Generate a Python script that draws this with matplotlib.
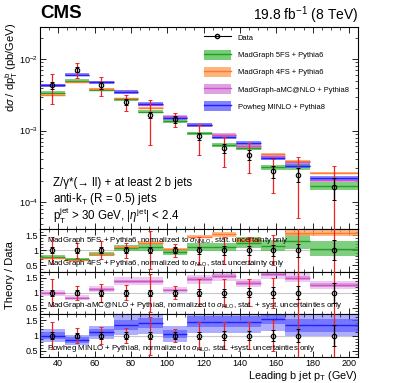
import numpy as np
import matplotlib
matplotlib.use("Agg")
import matplotlib.pyplot as plt
from matplotlib.lines import Line2D
from matplotlib.patches import Patch
from matplotlib.ticker import AutoMinorLocator, LogLocator, NullFormatter, FormatStrFormatter

plt.rcParams['font.family'] = ['Liberation Sans', 'DejaVu Sans']
plt.rcParams['mathtext.fontset'] = 'custom'
plt.rcParams['mathtext.rm'] = 'Liberation Sans'
plt.rcParams['mathtext.it'] = 'Liberation Sans:italic'
plt.rcParams['mathtext.bf'] = 'Liberation Sans:bold'

# ---------------------------------------------------------------
# data
# ---------------------------------------------------------------
bin_edges = np.array([30, 43.5, 57, 70.5, 84, 97.5, 111, 124.5, 138, 151.5, 165, 178.5, 205])

# measured d(sigma)/d(pT) in pb/GeV, relative stat and total errors
data_xsec = np.array([4.3e-3, 7.15e-3, 4.3e-3, 2.55e-3, 1.67e-3, 1.44e-3,
                      8.3e-4, 5.65e-4, 4.6e-4, 2.69e-4, 2.42e-4, 1.62e-4])
data_stat = np.array([0.10, 0.08, 0.10, 0.10, 0.10, 0.10, 0.12, 0.14, 0.15, 0.18, 0.22, 0.33])
data_tot = np.array([0.45, 0.24, 0.29, 0.25, 0.62, 0.21, 0.45, 0.45, 0.45, 0.50, 0.75, 0.95])

# theory / data
ratio_mg5 = np.array([0.79, 0.70, 0.87, 1.08, 1.10, 0.94, 1.10, 1.12, 1.25, 1.15, 1.31, 1.05])
ratio_mg4 = np.array([0.74, 0.67, 0.89, 1.11, 1.25, 1.04, 1.45, 1.52, 1.34, 1.77, 1.56, 1.58])
ratio_amc = np.array([1.00, 0.84, 1.12, 1.38, 1.38, 1.09, 1.45, 1.55, 1.31, 1.63, 1.49, 1.26])
ratio_pow = np.array([1.00, 0.85, 1.10, 1.35, 1.40, 1.05, 1.45, 1.45, 1.45, 1.55, 1.33, 1.33])

# relative theory uncertainties (inner = stat, outer = stat+syst)
unc_mg5 = np.array([0.04, 0.04, 0.04, 0.05, 0.05, 0.05, 0.06, 0.06, 0.07, 0.08, 0.10, 0.12])
unc_mg4 = np.array([0.02, 0.02, 0.02, 0.02, 0.02, 0.02, 0.02, 0.03, 0.03, 0.03, 0.03, 0.03])
unc_amc_in = np.array([0.04, 0.04, 0.04, 0.04, 0.04, 0.04, 0.05, 0.05, 0.05, 0.05, 0.05, 0.05])
unc_amc_out = np.array([0.09, 0.09, 0.09, 0.10, 0.10, 0.10, 0.10, 0.10, 0.10, 0.10, 0.10, 0.10])
unc_pow_in = np.array([0.10, 0.10, 0.10, 0.12, 0.12, 0.12, 0.12, 0.12, 0.12, 0.12, 0.15, 0.15])
unc_pow_out = np.array([0.20, 0.20, 0.20, 0.24, 0.24, 0.24, 0.25, 0.25, 0.25, 0.25, 0.25, 0.25])

labels = ["MadGraph 5FS + Pythia6", "MadGraph 4FS + Pythia6",
          "MadGraph-aMC@NLO + Pythia8", "Powheg MINLO + Pythia8"]

GREEN = dict(line='#22a022', band='#55c055', outer=None)
ORANGE = dict(line='#ff7a2a', band='#ffa25e', outer=None)
MAGENTA = dict(line='#cc55cc', band='#d98ad9', outer='#ecc2ec')
BLUE = dict(line='#2020ff', band='#6464ff', outer='#a0a0ff')

centers = 0.5 * (bin_edges[:-1] + bin_edges[1:])
widths = np.diff(bin_edges)


def draw_model(ax, vals, inner, style, outer=None):
    if outer is not None and style['outer'] is not None:
        ax.bar(bin_edges[:-1], 2 * vals * outer, bottom=vals * (1 - outer), width=widths,
               align='edge', color=style['outer'], alpha=0.85, lw=0, zorder=1)
    ax.bar(bin_edges[:-1], 2 * vals * inner, bottom=vals * (1 - inner), width=widths,
           align='edge', color=style['band'], alpha=0.75, lw=0, zorder=2)
    ax.hlines(vals, bin_edges[:-1], bin_edges[1:], color=style['line'], lw=1.0, zorder=3)


def draw_data(ax, y):
    ax.errorbar(centers, y, yerr=y * data_tot, fmt='none', ecolor='#ee2222', elinewidth=0.9,
                capsize=1.3, capthick=0.7, zorder=5)
    ax.errorbar(centers, y, yerr=y * data_stat, fmt='none', ecolor='black', elinewidth=0.9,
                capsize=1.3, capthick=0.7, zorder=6)
    ax.plot(centers, y, 'o', ms=3.2, mfc='none', mec='black', mew=0.8, zorder=7)


def style_axis(ax):
    ax.tick_params(which='both', direction='in', top=True, right=True, labelsize=6.5, pad=1.5)
    ax.tick_params(which='major', length=4, width=0.6)
    ax.tick_params(which='minor', length=2, width=0.5)
    for s in ax.spines.values():
        s.set_linewidth(0.8)


fig = plt.figure(figsize=(3.99, 3.83), dpi=100)
ax = fig.add_axes([0.1003, 0.402, 0.797, 0.527])
r1 = fig.add_axes([0.1003, 0.291, 0.797, 0.111], sharex=ax)
r2 = fig.add_axes([0.1003, 0.180, 0.797, 0.111], sharex=ax)
r3 = fig.add_axes([0.1003, 0.068, 0.797, 0.112], sharex=ax)

# main panel
draw_model(ax, ratio_mg5 * data_xsec, unc_mg5, GREEN)
draw_model(ax, ratio_mg4 * data_xsec, unc_mg4, ORANGE)
draw_model(ax, ratio_amc * data_xsec, unc_amc_in, MAGENTA)
draw_model(ax, ratio_pow * data_xsec, unc_pow_in * 0.5, BLUE)
draw_data(ax, data_xsec)
ax.set_yscale('log')
ax.set_ylim(4.2e-5, 2.8e-2)
ax.set_xlim(bin_edges[0], bin_edges[-1])
ax.yaxis.set_major_locator(LogLocator(base=10))
ax.yaxis.set_minor_locator(LogLocator(base=10, subs=np.arange(2, 10)))
ax.yaxis.set_minor_formatter(NullFormatter())
ax.xaxis.set_minor_locator(AutoMinorLocator(4))
style_axis(ax)
plt.setp(ax.get_xticklabels(), visible=False)

handles = [Line2D([], [], color='black', marker='o', ms=3, mfc='none', lw=0.8)]
for st in (GREEN, ORANGE, MAGENTA, BLUE):
    handles.append((Patch(facecolor=st['band'], alpha=0.8, lw=0), Line2D([], [], color=st['line'], lw=1.0)))
ax.legend(handles, ["Data"] + labels, loc='upper left', bbox_to_anchor=(0.515, 0.972), frameon=False,
          fontsize=5.4, handlelength=3.6, handleheight=1.6, labelspacing=1.0, handletextpad=0.9,
          borderpad=0, borderaxespad=0)

ax.text(0.041, 0.228, "Z/\u03b3*(\u2192 ll) + at least 2 b jets", transform=ax.transAxes, fontsize=8.3, va='center')
ax.text(0.041, 0.149, r"anti-k$_{\mathrm{T}}$ (R = 0.5) jets", transform=ax.transAxes, fontsize=8.3, va='center')
ax.text(0.041, 0.066, r"p$_{\mathrm{T}}^{\mathrm{jet}}$ > 30 GeV, |$\eta^{\mathrm{jet}}$| < 2.4",
        transform=ax.transAxes, fontsize=8.3, va='center')

# ratio panels
ones = np.ones_like(data_xsec)
draw_model(r1, ratio_mg5, unc_mg5 * 2, GREEN)
draw_model(r1, ratio_mg4, unc_mg4 * 2, ORANGE)
draw_model(r2, ratio_amc, unc_amc_in, MAGENTA, outer=unc_amc_out)
draw_model(r3, ratio_pow, unc_pow_in, BLUE, outer=unc_pow_out)

ratio_text = [
    (r1, 0.74, r"MadGraph 5FS + Pythia6, normalized to $\sigma_{\mathrm{NNLO}}$, stat. uncertainty only"),
    (r1, 0.20, r"MadGraph 4FS + Pythia6, normalized to $\sigma_{\mathrm{NLO}}$, stat. uncertainty only"),
    (r2, 0.19, r"MadGraph-aMC@NLO + Pythia8, normalized to $\sigma_{\mathrm{NLO}}$, stat. + syst. uncertainties only"),
    (r3, 0.19, r"Powheg MINLO + Pythia8, normalized to $\sigma_{\mathrm{NLO}}$, stat. +syst. uncertainties only"),
]
for rax, ty, txt in ratio_text:
    rax.text(0.022, ty, txt, transform=rax.transAxes, fontsize=5.7, va='center', zorder=8)

for rax in (r1, r2, r3):
    rax.axhline(1, color='#c8c8c8', lw=0.8, zorder=0)
    draw_data(rax, ones)
    rax.set_ylim(0.3, 1.7)
    rax.set_yticks([0.5, 1, 1.5])
    rax.yaxis.set_major_formatter(FormatStrFormatter('%g'))
    rax.yaxis.set_minor_locator(AutoMinorLocator(5))
    rax.xaxis.set_minor_locator(AutoMinorLocator(4))
    style_axis(rax)
for rax in (r1, r2):
    plt.setp(rax.get_xticklabels(), visible=False)
r3.set_xticks(np.arange(40, 201, 20))

fig.text(0.1003, 1 - 14 / 383, "CMS", fontsize=13.5, fontweight='bold', va='center', ha='left')
fig.text(0.897, 1 - 15 / 383, r"19.8 fb$^{-1}$ (8 TeV)", fontsize=10, va='center', ha='right')
fig.text(12 / 399, 1 - 23 / 383, r"d$\sigma$ / dp$_{\mathrm{T}}^{\mathrm{b}}$ (pb/GeV)", rotation=90,
         fontsize=8, ha='center', va='top')
fig.text(10 / 399, 1 - 275 / 383, "Theory / Data", rotation=90, fontsize=8, ha='center', va='center')
fig.text(0.897, 1 - 376 / 383, r"Leading b jet p$_{\mathrm{T}}$ (GeV)", fontsize=7.8, ha='right', va='center')

fig.savefig("out.png", dpi=100)
